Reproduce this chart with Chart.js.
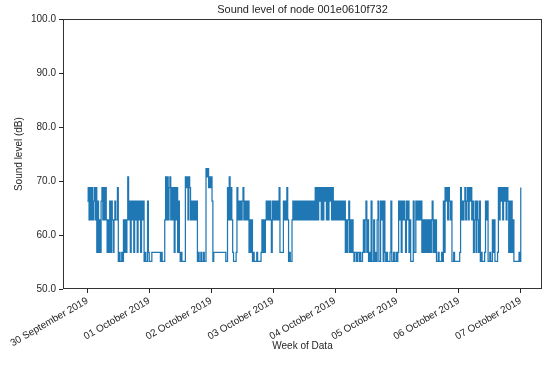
<!DOCTYPE html>
<html>
<head>
<meta charset="utf-8">
<script src="https://cdn.jsdelivr.net/npm/chart.js@4.4.0/dist/chart.umd.min.js"></script>
<style>
  html, body { margin: 0; padding: 0; background: #fff; }
  canvas { display: block; }
</style>
</head>
<body>
<canvas id="grafico" width="550" height="369"></canvas>
<script>
// Etichette dei giorni sull'asse x (un tick per giorno, 0 = 30 settembre)
const etichetteGiorni = ['30 September 2019', '01 October 2019', '02 October 2019', '03 October 2019',
    '04 October 2019', '05 October 2019', '06 October 2019', '07 October 2019'];
const tickY = [50, 60, 70, 80, 90, 100];

// Livello sonoro in dB, un valore ogni 20 minuti (72 per giorno)
const giorno0 = [66.3, 68.8, 62.8, 68.8, 62.8, 68.8, 62.8, 66.3, 68.8, 62.8, 68.8, 56.8,
    66.3, 56.8, 62.8, 56.8, 66.3, 68.8, 62.8, 68.8, 62.8, 68.8, 62.8, 56.8,
    62.8, 56.8, 66.3, 56.8, 66.3, 62.8, 56.8, 62.8, 66.3, 62.8, 62.8, 68.8,
    55.1, 56.8, 55.1, 55.1, 56.8, 55.1, 62.8, 56.8, 62.8, 56.8, 62.8, 70.8,
    62.8, 66.3, 56.8, 66.3, 62.8, 66.3, 56.8, 66.3, 62.8, 66.3, 56.8, 66.3,
    62.8, 66.3, 56.8, 66.3, 62.8, 66.3, 55.1, 56.8, 55.1, 55.1, 66.3, 56.8];
const giorno1 = [55.1, 55.1, 55.1, 56.8, 56.8, 56.8, 56.8, 56.8, 56.8, 56.8, 56.8, 56.8,
    56.8, 55.1, 56.8, 55.1, 55.1, 55.1, 62.8, 70.8, 62.8, 70.8, 62.8, 68.8,
    70.8, 62.8, 68.8, 62.8, 68.8, 56.8, 68.8, 62.8, 68.8, 56.8, 66.3, 56.8,
    55.1, 56.8, 55.1, 55.1, 55.1, 55.1, 70.8, 68.8, 70.8, 62.8, 70.8, 68.8,
    62.8, 66.3, 62.8, 66.3, 62.8, 66.3, 62.8, 66.3, 55.1, 56.8, 55.1, 55.1,
    56.8, 55.1, 55.1, 56.8, 55.1, 55.1, 72.3, 70.8, 72.3, 68.8, 70.8, 68.8];
const giorno2 = [70.8, 66.3, 55.1, 56.8, 56.8, 56.8, 56.8, 56.8, 56.8, 56.8, 56.8, 56.8,
    56.8, 56.8, 56.8, 56.8, 56.8, 55.1, 55.1, 68.8, 62.8, 70.8, 62.8, 68.8,
    62.8, 56.8, 55.1, 55.1, 55.1, 56.8, 68.8, 62.8, 66.3, 62.8, 66.3, 62.8,
    66.3, 68.8, 62.8, 66.3, 62.8, 66.3, 62.8, 66.3, 56.8, 62.8, 56.8, 62.8,
    55.1, 56.8, 55.1, 55.1, 55.1, 56.8, 55.1, 55.1, 55.1, 55.1, 56.8, 62.8,
    56.8, 62.8, 56.8, 62.8, 66.3, 62.8, 66.3, 62.8, 66.3, 62.8, 56.8, 66.3];
const giorno3 = [62.8, 66.3, 62.8, 66.3, 62.8, 66.3, 62.8, 68.8, 56.8, 56.8, 56.8, 56.8,
    66.3, 62.8, 66.3, 62.8, 68.8, 62.8, 55.1, 56.8, 55.1, 55.1, 62.8, 66.3,
    62.8, 66.3, 62.8, 66.3, 62.8, 66.3, 62.8, 66.3, 62.8, 66.3, 62.8, 66.3,
    62.8, 66.3, 62.8, 66.3, 62.8, 66.3, 62.8, 66.3, 62.8, 66.3, 62.8, 66.3,
    62.8, 68.8, 62.8, 68.8, 62.8, 68.8, 66.3, 68.8, 62.8, 68.8, 62.8, 68.8,
    66.3, 68.8, 62.8, 68.8, 62.8, 68.8, 66.3, 68.8, 62.8, 68.8, 62.8, 66.3];
const giorno4 = [62.8, 66.3, 62.8, 66.3, 62.8, 66.3, 62.8, 66.3, 62.8, 66.3, 62.8, 66.3,
    56.8, 62.8, 56.8, 62.8, 66.3, 56.8, 62.8, 56.8, 62.8, 56.8, 55.1, 56.8,
    56.8, 55.1, 56.8, 56.8, 55.1, 56.8, 55.1, 55.1, 56.8, 62.8, 56.8, 62.8,
    66.3, 56.8, 62.8, 55.1, 56.8, 55.1, 66.3, 55.1, 55.1, 62.8, 55.1, 56.8,
    55.1, 62.8, 66.3, 55.1, 55.1, 66.3, 62.8, 66.3, 55.1, 66.3, 56.8, 55.1,
    56.8, 55.1, 55.1, 55.1, 56.8, 66.3, 55.1, 55.1, 56.8, 55.1, 55.1, 56.8];
const giorno5 = [55.1, 56.8, 66.3, 62.8, 66.3, 56.8, 66.3, 62.8, 66.3, 62.8, 56.8, 66.3,
    62.8, 66.3, 56.8, 62.8, 55.1, 55.1, 55.1, 66.3, 56.8, 56.8, 66.3, 62.8,
    66.3, 62.8, 66.3, 62.8, 66.3, 56.8, 62.8, 56.8, 62.8, 56.8, 62.8, 56.8,
    62.8, 56.8, 62.8, 56.8, 62.8, 66.3, 56.8, 62.8, 56.8, 62.8, 55.1, 55.1,
    56.8, 55.1, 55.1, 55.1, 56.8, 55.1, 66.3, 56.8, 68.8, 66.3, 68.8, 62.8,
    68.8, 66.3, 62.8, 66.3, 55.1, 55.1, 56.8, 55.1, 55.1, 55.1, 55.1, 55.1];
const giorno6 = [55.1, 56.8, 68.8, 62.8, 66.3, 62.8, 66.3, 68.8, 62.8, 66.3, 68.8, 62.8,
    68.8, 66.3, 68.8, 62.8, 66.3, 56.8, 62.8, 66.3, 56.8, 66.3, 62.8, 56.8,
    66.3, 55.1, 56.8, 55.1, 55.1, 55.1, 56.8, 66.3, 62.8, 66.3, 55.1, 55.1,
    56.8, 55.1, 55.1, 62.8, 56.8, 62.8, 55.1, 55.1, 55.1, 56.8, 68.8, 62.8,
    68.8, 66.3, 68.8, 62.8, 68.8, 66.3, 68.8, 62.8, 68.8, 66.3, 56.8, 66.3,
    56.8, 66.3, 56.8, 62.8, 55.1, 55.1, 55.1, 55.1, 55.1, 55.1, 56.8, 55.1];
// Ultima lettura, alla mezzanotte del 7 ottobre
const valoreFinale = 68.8;

const giorni = [giorno0, giorno1, giorno2, giorno3, giorno4, giorno5, giorno6];

// Costruisce i punti {x: giorno, y: dB} per il grafico
const punti = [];
giorni.forEach((valori, g) => {
    valori.forEach((v, i) => punti.push({ x: g + i / valori.length, y: v }));
});
punti.push({ x: giorni.length, y: valoreFinale });

const coloreAssi = '#262626';
Chart.defaults.font.family = '"Liberation Sans", Arial, sans-serif';
Chart.defaults.color = coloreAssi;

// Cornice attorno all'area del grafico (come gli spines di matplotlib)
const cornice = {
    id: 'cornice',
    afterDatasetsDraw(chart) {
        const { ctx, chartArea: a } = chart;
        ctx.save();
        ctx.strokeStyle = '#333333';
        ctx.lineWidth = 1;
        ctx.strokeRect(Math.round(a.left) + 0.5, Math.round(a.top) + 0.5,
            Math.round(a.right - a.left) - 1, Math.round(a.bottom - a.top) - 1);
        ctx.restore();
    }
};

new Chart(document.getElementById('grafico'), {
    type: 'line',
    data: {
        datasets: [{
            data: punti,
            borderColor: '#1f77b4',
            borderWidth: 1.25,
            pointRadius: 0,
            stepped: true,
            fill: false
        }]
    },
    options: {
        responsive: false,
        animation: false,
        layout: { padding: { left: 0, right: 8, top: 0, bottom: 0 } },
        plugins: {
            legend: { display: false },
            tooltip: { enabled: false },
            title: {
                display: true,
                text: 'Sound level of node 001e0610f732',
                fullSize: false,
                color: coloreAssi,
                font: { size: 11, weight: 'normal' },
                padding: { top: 3, bottom: 3 }
            }
        },
        scales: {
            x: {
                type: 'linear',
                min: -0.393,
                max: 7.343,
                afterBuildTicks: s => { s.ticks = etichetteGiorni.map((e, i) => ({ value: i })); },
                afterFit: s => { s.height = 80; s.paddingLeft = 0; s.paddingRight = 0; },
                ticks: {
                    autoSkip: false,
                    maxRotation: 30,
                    minRotation: 30,
                    padding: 2,
                    font: { size: 10 },
                    callback: v => etichetteGiorni[v]
                },
                grid: { drawOnChartArea: false, drawTicks: true, tickLength: 4, color: coloreAssi },
                border: { display: false },
                title: { display: true, text: 'Week of Data', font: { size: 10 }, padding: { top: 0, bottom: 17 } }
            },
            y: {
                min: 50,
                max: 100,
                afterBuildTicks: s => { s.ticks = tickY.map(v => ({ value: v })); },
                afterFit: s => { s.width = 63; },
                ticks: {
                    padding: 3,
                    font: { size: 10 },
                    callback: v => v.toFixed(1)
                },
                grid: { drawOnChartArea: false, drawTicks: true, tickLength: 4, color: coloreAssi },
                border: { display: false },
                title: { display: true, text: 'Sound level (dB)', font: { size: 10 }, padding: { top: 13, bottom: 0 } }
            }
        }
    },
    plugins: [cornice]
});
</script>
</body>
</html>
